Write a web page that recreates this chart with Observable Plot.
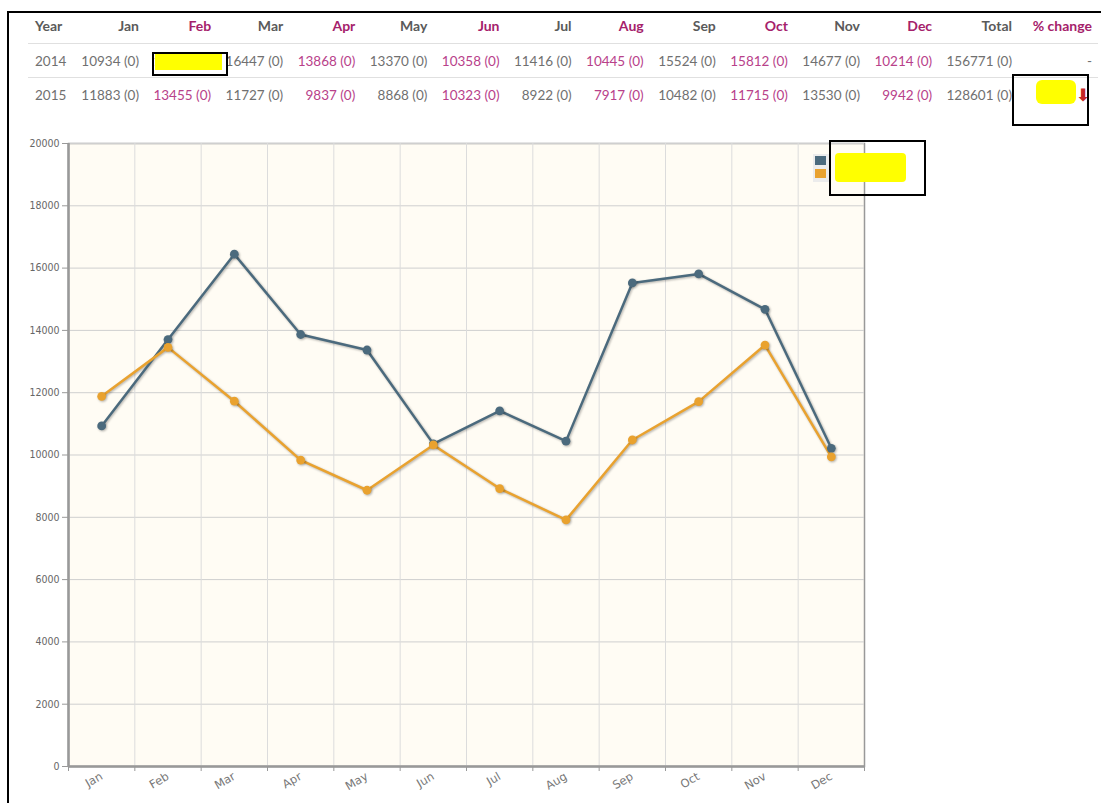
<!DOCTYPE html>
<html><head><meta charset="utf-8">
<script src="https://cdn.jsdelivr.net/npm/d3@7"></script>
<script src="https://cdn.jsdelivr.net/npm/@observablehq/plot@0.6"></script>
<style>
html,body{margin:0;padding:0;background:#fff;}
body{width:1101px;height:803px;overflow:hidden;position:relative;font-family:Lato,"Open Sans",sans-serif;}
#frameBorder{position:absolute;left:7px;top:11px;width:1300px;height:900px;border-left:2px solid #000;border-top:2px solid #000;box-sizing:border-box;}
.cell{position:absolute;white-space:nowrap;font-size:13.5px;line-height:18px;}
.hdr{font-weight:bold;font-size:14px;}
.sep{position:absolute;left:28px;width:1070px;height:1px;background:#e0e0e0;}
.yellow{position:absolute;background:#ffff00;}
.box{position:absolute;border:2px solid #000;box-sizing:border-box;}
#chart{position:absolute;left:0;top:125px;}
.legsq{position:absolute;width:11px;height:9px;}
</style>
</head><body>
<div id="frameBorder"></div>
<div id="table"></div>
<div id="chart"></div>
<div id="legend"></div>
<script>
// ---- data ----
const months = ["Jan","Feb","Mar","Apr","May","Jun","Jul","Aug","Sep","Oct","Nov","Dec"];
const years = [2014, 2015];
const values2014 = [10934, 13706, 16447, 13868, 13370, 10358, 11416, 10445, 15524, 15812, 14677, 10214];
const values2015 = [11883, 13455, 11727, 9837, 8868, 10323, 8922, 7917, 10482, 11715, 13530, 9942];
const totals = [156771, 128601];
const changes = ["0", "0"];
const pctChange = ["-", null];
const seriesColors = ["#4b6a7d", "#e9a22f"];
const yTicks = [0, 2000, 4000, 6000, 8000, 10000, 12000, 14000, 16000, 18000, 20000];
const headerExtra = ["Year", "Total", "% change"];

// ---- table ----
const grey = "#707070", greyH = "#5a5a5a", mag = "#b8418a", magH = "#a5216b";
const table = document.getElementById("table");
function addCell(text, right, cy, color, cls, left) {
  const d = document.createElement("div");
  d.className = "cell " + (cls || "");
  d.textContent = text;
  d.style.color = color;
  d.style.top = (cy - 9) + "px";
  if (left !== undefined) d.style.left = left + "px";
  else d.style.right = (1101 - right) + "px";
  table.appendChild(d);
  return d;
}
const colRight = i => 139 + i * 72.1;
const rowsY = [61, 95];
addCell(headerExtra[0], 0, 26, greyH, "hdr", 35);
months.forEach((m, i) => addCell(m, colRight(i), 26, i % 2 ? magH : greyH, "hdr"));
addCell(headerExtra[1], 1012, 26, greyH, "hdr");
addCell(headerExtra[2], 1092, 26, magH, "hdr");
[values2014, values2015].forEach((vals, r) => {
  const cy = rowsY[r];
  addCell(String(years[r]), 0, cy, grey, "", 35);
  vals.forEach((v, i) => addCell(v + " (" + changes[r] + ")", colRight(i), cy, i % 2 ? mag : grey));
  addCell(totals[r] + " (" + changes[r] + ")", 1012, cy, grey);
  if (pctChange[r] !== null) addCell(pctChange[r], 1092, cy, grey);
});
[43, 77].forEach(y => { const s = document.createElement("div"); s.className = "sep"; s.style.top = y + "px"; table.appendChild(s); });

function addRect(cls, x, y, w, h, extra) {
  const d = document.createElement("div");
  d.className = cls;
  Object.assign(d.style, {left: x + "px", top: y + "px", width: w + "px", height: h + "px"}, extra || {});
  document.body.appendChild(d);
  return d;
}
// redaction marks
addRect("yellow", 155, 54, 67, 16);
addRect("box", 152, 52, 76, 24);
addRect("yellow", 1036, 80, 40, 24, {borderRadius: "6px"});
const arrow = addRect("cell", 1076, 85, 16, 20, {color: "#c62828", fontWeight: "bold", fontSize: "17px", lineHeight: "20px", fontFamily: "DejaVu Sans"});
arrow.textContent = "⬇";
addRect("box", 1012, 74, 77, 52);

// ---- chart ----
const rows = [];
[values2014, values2015].forEach((vals, s) => vals.forEach((v, i) => rows.push({year: String(years[s]), i, value: v})));
const idx = d3.range(months.length);
const bounds = d3.range(-0.5, months.length, 1);

const plot = Plot.plot({
  width: 900, height: 678,
  marginLeft: 68, marginRight: 36, marginTop: 18, marginBottom: 37,
  style: {background: "transparent", fontFamily: "'DejaVu Sans Condensed','DejaVu Sans',sans-serif", fontSize: "10px", color: "#666"},
  x: {domain: [-0.5, months.length - 0.5]},
  y: {domain: [0, 20000]},
  color: {domain: years.map(String), range: seriesColors},
  marks: [
    Plot.frame({fill: "#fffcf4", stroke: "#999", strokeWidth: 1.5}),
    Plot.gridY({ticks: yTicks, stroke: "#cfcfcf", strokeOpacity: 1}),
    Plot.gridX({ticks: bounds.slice(1, -1), stroke: "#dcdcdc", strokeOpacity: 1}),
    Plot.ruleX([-0.5], {stroke: "#999", strokeWidth: 2.5}),
    Plot.ruleY([0], {stroke: "#999", strokeWidth: 2.5}),
    Plot.axisY({ticks: yTicks, tickSize: 6, tickPadding: 3, tickFormat: d3.format("d"), label: null, stroke: "#999", fill: "#666", fontSize: 10.5}),
    Plot.axisX({ticks: bounds, tickSize: 5, tickFormat: () => "", label: null, stroke: "#999"}),
    Plot.axisX({ticks: idx, tickSize: 0, tickPadding: 9, tickRotate: -30, tickFormat: i => months[i], label: null, fill: "#777", fontSize: 11.5, fontFamily: "'DejaVu Sans',sans-serif"}),
    Plot.line(rows, {x: "i", y: "value", stroke: "year", strokeWidth: 2.5}),
    Plot.dot(rows, {x: "i", y: "value", fill: "year", r: 4.4})
  ]
});
document.getElementById("chart").appendChild(plot);
d3.select(plot).selectAll('g[aria-label="line"], g[aria-label="dot"]').style("filter", "drop-shadow(1.5px 1.5px 1px rgba(0,0,0,0.3))");
d3.select(plot).selectAll('g[aria-label="frame"]').style("filter", "drop-shadow(2px 2px 1px rgba(0,0,0,0.25))");

// ---- legend ----
addRect("legbg", 813, 154, 18, 28, {position: "absolute", background: "#ececec"});
years.forEach((yr, s) => {
  addRect("legsq", 815, 156 + s * 13, 11, 9, {background: seriesColors[s]});
  const t = addRect("cell", 840, 151 + s * 13, 40, 14, {fontSize: "11px", color: "#555", lineHeight: "14px"});
  t.textContent = String(yr);
});
addRect("yellow", 835, 153, 71, 29, {borderRadius: "4px"});
addRect("box", 829, 140, 97, 56);
</script>
</body></html>
